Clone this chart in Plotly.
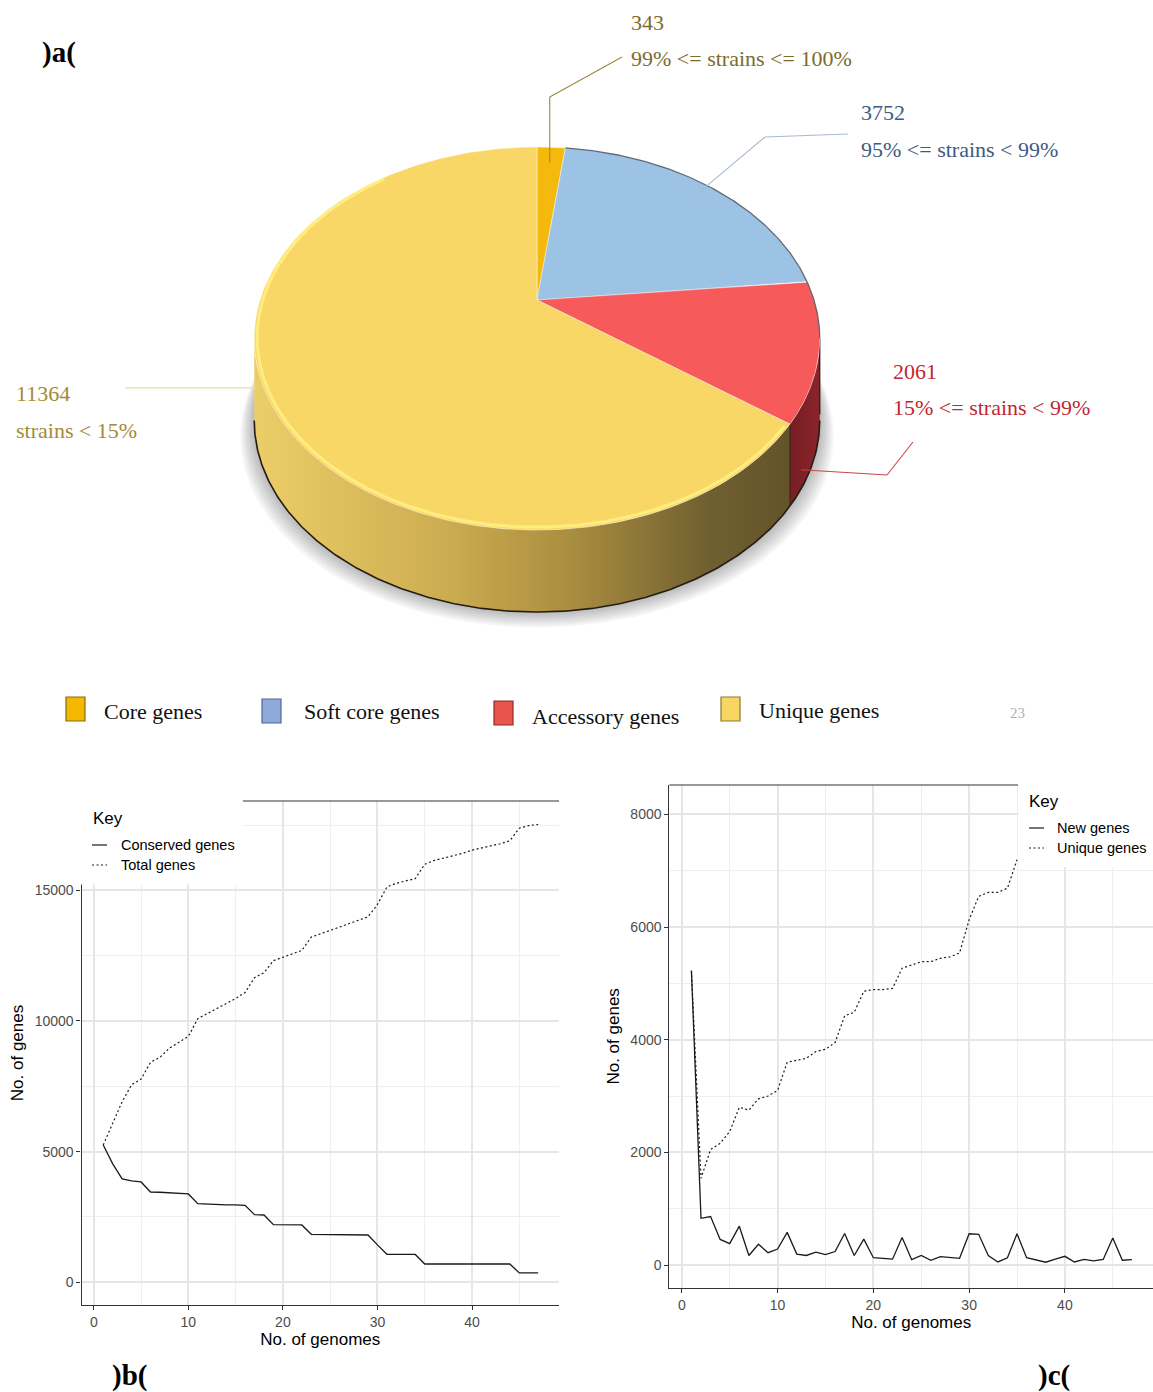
import numpy as np
import plotly.graph_objects as go

# ---------------- data ----------------
categories = ["Core genes", "Soft core genes", "Accessory genes", "Unique genes"]
gene_counts = [343, 3752, 2061, 11364]
strain_ranges = ["99% &lt;= strains &lt;= 100%", "95% &lt;= strains &lt; 99%",
                 "15% &lt;= strains &lt; 99%", "strains &lt; 15%"]

genomes = list(range(1, 48))
conserved_genes = [5255, 4530, 3955, 3880, 3840, 3455, 3445, 3430, 3405, 3380,
                   3010, 2985, 2970, 2960, 2960, 2945, 2590, 2575, 2205, 2205,
                   2205, 2195, 1835, 1830, 1830, 1825, 1825, 1820, 1810, 1430,
                   1070, 1070, 1070, 1065, 700, 700, 700, 700, 700, 700,
                   700, 700, 700, 700, 357, 357, 357]
total_genes = [5255, 6085, 6915, 7560, 7775, 8420, 8610, 8960, 9190, 9410,
               10090, 10280, 10460, 10670, 10860, 11090, 11660, 11850, 12310, 12440,
               12570, 12700, 13210, 13340, 13470, 13570, 13715, 13855, 13985, 14460,
               15130, 15270, 15350, 15450, 16000, 16145, 16235, 16325, 16415, 16540,
               16620, 16710, 16785, 16900, 17380, 17480, 17520]
new_genes = [5225, 830, 860, 455, 380, 690, 170, 370, 220, 285,
             580, 195, 170, 230, 185, 240, 560, 170, 460, 130,
             120, 105, 490, 95, 170, 85, 150, 140, 120, 555,
             545, 170, 55, 130, 555, 130, 95, 50, 105, 155,
             55, 100, 75, 100, 480, 85, 95]
unique_genes = [5225, 1540, 2050, 2160, 2370, 2800, 2750, 2950, 3000, 3100,
                3600, 3630, 3670, 3790, 3830, 3950, 4425, 4485, 4860, 4890,
                4890, 4910, 5270, 5325, 5385, 5385, 5445, 5470, 5540, 6130,
                6545, 6615, 6615, 6690, 7195]

b_yticks = [0, 5000, 10000, 15000]
c_yticks = [0, 2000, 4000, 6000, 8000]
x_ticks = [0, 10, 20, 30, 40]

# ---------------- styles ----------------
W, H = 1153, 1392
SERIF = "Liberation Serif, Times New Roman, serif"
SANS = "Liberation Sans, Arial, sans-serif"
LABEL_SIZE = 22
top_colors = ["rgb(245,184,12)", "rgb(156,194,228)", "rgb(246,90,90)", "rgb(249,215,102)"]
key_colors = ["#F5B800", "#8EA9DB", "#E8554A", "#F8D664"]
key_edges = ["#8A6A10", "#4A6A90", "#8A2A2A", "#8A7A30"]
label_colors = ["#7D6B2D", "#3E5A82", "#C0282E", "#A38B35"]
leader_colors = ["#9C8A3C", "#AAB9CC", "#C8464B", "#E6DCA8"]

# 3D pie projection (perspective view of a tilted disc), pixel units
CX, CY, RX, RY, KP, DEPTH = 537.0, 300.0, 277.0, 183.8, 0.201, 82.0


def rim(theta, r=1.0):
    t = np.radians(theta)
    u, v = r * np.sin(t), r * np.cos(t)
    w = 1 + KP * v
    return CX + RX * u / w, CY - RY * v / w


shares = np.array(gene_counts, dtype=float) / sum(gene_counts)
edges = np.concatenate([[0.0], np.cumsum(shares) * 360.0])

_th = np.linspace(0, 360, 3601)
_xs, _ = rim(_th)
TH_R, TH_L = _th[np.argmax(_xs)], _th[np.argmin(_xs)]

fig = go.Figure()


def poly(x, y, **kw):
    fig.add_trace(go.Scatter(x=list(x), y=list(y), mode="lines", fill="toself",
                             hoverinfo="skip", showlegend=False, xaxis="x", yaxis="y", **kw))


def path(x, y, color, width, dash=None):
    fig.add_trace(go.Scatter(x=list(x), y=list(y), mode="lines", hoverinfo="skip",
                             showlegend=False, xaxis="x", yaxis="y",
                             line=dict(color=color, width=width, dash=dash)))


# soft drop shadow under the disc
full = np.linspace(0, 360, 361)
bx, by = rim(full)
for k in range(7, 0, -1):
    poly(CX + (bx - CX) * (1 + 0.007 * k), by + DEPTH + 2.2 * k,
         line=dict(width=0), fillcolor="rgba(0,0,0,0.04)")

# visible side walls
side_fills = {
    3: dict(type="horizontal", colorscale=[[0, "rgb(236,206,104)"], [0.37, "rgb(203,171,80)"],
                                           [0.58, "rgb(172,143,64)"], [0.85, "rgb(112,96,48)"],
                                           [1, "rgb(98,83,42)"]]),
    2: dict(type="horizontal", colorscale=[[0, "rgb(118,30,36)"], [1, "rgb(138,36,42)"]]),
}
for i in range(4):
    a, b = max(edges[i], TH_R), min(edges[i + 1], TH_L)
    if a < b:
        th = np.linspace(a, b, 200)
        xt, yt = rim(th)
        xs = np.concatenate([xt, xt[::-1]])
        ys = np.concatenate([yt, (yt + DEPTH)[::-1]])
        poly(xs, ys, line=dict(width=0), fillgradient=side_fills.get(i))

# bottom silhouette and wall seam
th = np.linspace(TH_R, TH_L, 300)
xt, yt = rim(th)
path(xt, yt + DEPTH, "rgb(35,28,18)", 1.6)
sx, sy = rim(edges[3])
path([sx, sx], [sy, sy + DEPTH], "rgb(60,40,25)", 1.2)
rx_, ry_ = rim(TH_R)
path([rx_, rx_], [ry_, ry_ + DEPTH - 6], "rgb(40,20,20)", 1.2)

# top faces
for i in range(4):
    th = np.linspace(edges[i], edges[i + 1], 240)
    xt, yt = rim(th)
    poly(np.concatenate([[CX], xt, [CX]]), np.concatenate([[CY], yt, [CY]]),
         line=dict(width=0.8, color="rgba(255,255,255,0.55)"), fillcolor=top_colors[i])

# rim edges
th = np.linspace(edges[1], TH_R, 200)
xt, yt = rim(th)
path(xt, yt, "rgba(55,60,80,0.75)", 1.3)
th = np.linspace(edges[3] + 1, 320, 300)
xt, yt = rim(th, 0.99)
path(xt, yt, "rgba(255,240,130,0.9)", 3)

# ---------------- pie labels and leader lines ----------------
annotations = []
shapes = []


def label(i, x, y0, y1):
    for y, txt in [(y0, f"{gene_counts[i]}"), (y1, strain_ranges[i])]:
        annotations.append(dict(x=x, y=y, xref="x", yref="y", text=txt,
                                showarrow=False, xanchor="left", yanchor="middle",
                                font=dict(family=SERIF, size=LABEL_SIZE, color=label_colors[i])))


def leader(i, pts):
    for (x0, y0), (x1, y1) in zip(pts[:-1], pts[1:]):
        shapes.append(dict(type="line", xref="x", yref="y", x0=x0, y0=y0, x1=x1, y1=y1,
                           line=dict(color=leader_colors[i], width=1.1), layer="above"))


mid = (edges[:-1] + edges[1:]) / 2
p0 = rim(mid[0], 0.88)
leader(0, [p0, (p0[0], 97), (622, 57)])
label(0, 629, 22, 58)

p1 = rim(mid[1], 0.85)
leader(1, [p1, (765, 137), (848, 134)])
label(1, 859, 112, 149)

p2 = rim(edges[3] - 4)
leader(2, [(p2[0] + 2, p2[1] + 0.72 * DEPTH), (887, 475), (913, 442)])
label(2, 891, 371, 407)

p3 = rim(255)
leader(3, [(125, p3[1] + 0.46 * DEPTH), (p3[0] + 2, p3[1] + 0.46 * DEPTH)])
label(3, 14, 393, 430)

# category key under the disc
key_x = [66, 262, 494, 721]
key_tx = [102, 302, 530, 757]
key_y = [709, 711, 713, 709]
key_ty = [711, 711, 716, 710]
for i, cat in enumerate(categories):
    shapes.append(dict(type="rect", xref="x", yref="y", x0=key_x[i], x1=key_x[i] + 19,
                       y0=key_y[i] - 12, y1=key_y[i] + 12, fillcolor=key_colors[i],
                       line=dict(color=key_edges[i], width=1.2), layer="above"))
    annotations.append(dict(x=key_tx[i], y=key_ty[i], xref="x", yref="y", text=cat,
                            showarrow=False, xanchor="left", yanchor="middle",
                            font=dict(family=SERIF, size=LABEL_SIZE, color="#111")))
annotations.append(dict(x=1008, y=713, xref="x", yref="y", text="23", showarrow=False,
                        xanchor="left", yanchor="middle",
                        font=dict(family=SERIF, size=15, color="#B0B0B0")))

# panel tags
for tag, x, y in [(")a(", 40, 52), (")b(", 110, 1375), (")c(", 1036, 1375)]:
    annotations.append(dict(x=x, y=y, xref="x", yref="y", text=f"<b>{tag}</b>",
                            showarrow=False, xanchor="left", yanchor="middle",
                            font=dict(family=SERIF, size=29, color="#000")))

# ---------------- panel b: conserved vs total ----------------
line_kw = dict(mode="lines", hoverinfo="skip", showlegend=False)
DOT = "2px,2.5px"
fig.add_trace(go.Scatter(x=genomes, y=conserved_genes, xaxis="x2", yaxis="y2",
                         line=dict(color="#1a1a1a", width=1.3), **line_kw))
fig.add_trace(go.Scatter(x=genomes, y=total_genes, xaxis="x2", yaxis="y2",
                         line=dict(color="#1a1a1a", width=1.2, dash=DOT), **line_kw))

# ---------------- panel c: new vs unique ----------------
fig.add_trace(go.Scatter(x=genomes, y=new_genes, xaxis="x3", yaxis="y3",
                         line=dict(color="#1a1a1a", width=1.3), **line_kw))
fig.add_trace(go.Scatter(x=genomes[:len(unique_genes)], y=unique_genes, xaxis="x3", yaxis="y3",
                         line=dict(color="#1a1a1a", width=1.2, dash=DOT), **line_kw))

tickfont = dict(family=SANS, size=14, color="#4D4D4D")
titlefont = dict(family=SANS, size=17, color="#000")
GRID_MAJOR, GRID_MINOR = "#E6E6E6", "#EFEFEF"


def xax(domain, title):
    return dict(domain=domain, range=[-1.3, 49.2], tickmode="array", tickvals=x_ticks,
                ticktext=[str(v) for v in x_ticks],
                showline=True, linecolor="#333", linewidth=1.2, ticks="outside",
                ticklen=4, tickcolor="#333", tickfont=tickfont, showgrid=True,
                gridcolor=GRID_MAJOR, gridwidth=1.5, zeroline=False, automargin=False,
                minor=dict(tickmode="linear", tick0=5, dtick=10, showgrid=True,
                           gridcolor=GRID_MINOR, gridwidth=1.2),
                title=dict(text=title, font=titlefont, standoff=2), fixedrange=True)


def yax(domain, rng, ticks, minor0, minor_step, title, anchor):
    return dict(domain=domain, range=rng, tickmode="array", tickvals=ticks,
                ticktext=[str(v) for v in ticks],
                showline=True, linecolor="#333", linewidth=1.2, ticks="outside",
                ticklen=4, tickcolor="#333", tickfont=tickfont, showgrid=True,
                gridcolor=GRID_MAJOR, gridwidth=1.5, zeroline=False, automargin=False,
                minor=dict(tickmode="linear", tick0=minor0, dtick=minor_step, showgrid=True,
                           gridcolor=GRID_MINOR, gridwidth=1.2),
                title=dict(text=title, font=titlefont, standoff=6), anchor=anchor,
                fixedrange=True)


bx0, bx1, by0, by1 = 81.5, 559.0, 801.0, 1305.0
cx0, cx1, cy0, cy1 = 669.4, 1153.0, 785.0, 1287.7

# partial top frame lines and key boxes
shapes.append(dict(type="line", xref="x", yref="y", x0=242.6, x1=bx1, y0=by0, y1=by0,
                   line=dict(color="#333", width=1.2), layer="above"))
shapes.append(dict(type="line", xref="x", yref="y", x0=cx0, x1=1018, y0=cy0, y1=cy0,
                   line=dict(color="#333", width=1.2), layer="above"))
shapes.append(dict(type="rect", xref="x", yref="y", x0=70, x1=242.6, y0=790, y1=884.5,
                   fillcolor="white", line=dict(width=0), layer="above"))
shapes.append(dict(type="rect", xref="x", yref="y", x0=1018.5, x1=1153, y0=776, y1=867,
                   fillcolor="white", line=dict(width=0), layer="above"))

keys = [
    (91, 818, 92, 119, [(845, "Conserved genes", None), (865, "Total genes", DOT)]),
    (1027, 801, 1029, 1055, [(828, "New genes", None), (848, "Unique genes", DOT)]),
]
for kx, ky, lx, tx, items in keys:
    annotations.append(dict(x=kx, y=ky, xref="x", yref="y", text="Key", showarrow=False,
                            xanchor="left", yanchor="middle", font=titlefont))
    for yy, txt, dash in items:
        shapes.append(dict(type="line", xref="x", yref="y", x0=lx, x1=lx + 15, y0=yy, y1=yy,
                           line=dict(color="#1a1a1a", width=1.2, dash=dash), layer="above"))
        annotations.append(dict(x=tx, y=yy, xref="x", yref="y", text=txt, showarrow=False,
                                xanchor="left", yanchor="middle",
                                font=dict(family=SANS, size=14.5, color="#000")))

fig.update_layout(
    width=W, height=H, margin=dict(l=0, r=0, t=0, b=0),
    paper_bgcolor="white", plot_bgcolor="rgba(0,0,0,0)", showlegend=False,
    xaxis=dict(domain=[0, 1], range=[0, W], visible=False, fixedrange=True),
    yaxis=dict(domain=[0, 1], range=[H, 0], visible=False, fixedrange=True),
    xaxis2=dict(xax([bx0 / W, bx1 / W], "No. of genomes"), anchor="y2"),
    yaxis2=yax([(H - by1) / H, (H - by0) / H], [-870, 18420], b_yticks, 2500, 5000,
               "No. of genes", "x2"),
    xaxis3=dict(xax([cx0 / W, cx1 / W], "No. of genomes"), anchor="y3"),
    yaxis3=yax([(H - cy1) / H, (H - cy0) / H], [-402, 8521], c_yticks, 1000, 2000,
               "No. of genes", "x3"),
    annotations=annotations, shapes=shapes,
)

fig.write_html("out.html")
